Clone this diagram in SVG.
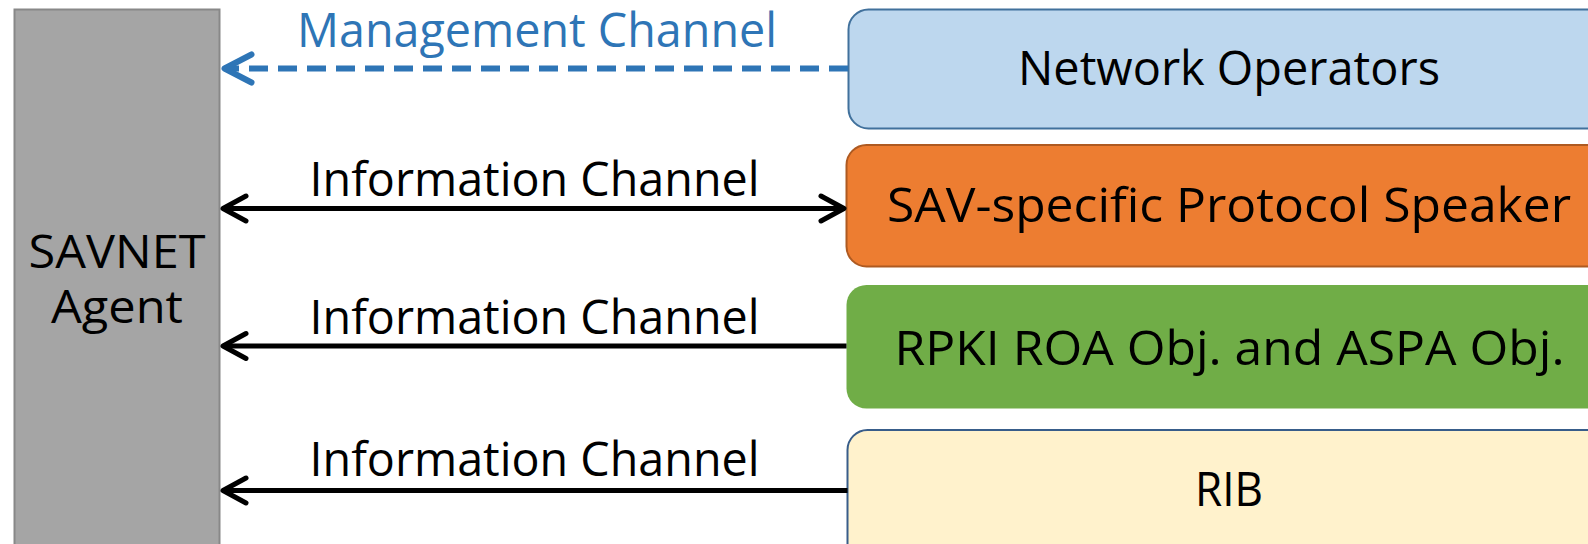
<svg xmlns="http://www.w3.org/2000/svg" width="1588" height="544" viewBox="0 0 1588 544">
  <style>
    text { font-family: "Open Sans", "Noto Sans", "DejaVu Sans", sans-serif; font-size: 48px; fill: #000000; }
    .agent { font-size: 46px; }
    .mgmt { fill: #2e75b6; font-size: 47px; }
    .box { stroke-width: 2; }
    .conn { fill: none; stroke: #000000; stroke-width: 5; }
    .conn-mgmt { fill: none; stroke: #2e75b6; stroke-width: 6; stroke-dasharray: 19 10; }
  </style>
  <defs>
    <marker id="head-black" markerUnits="userSpaceOnUse" viewBox="-30 -18 36 36" refX="0" refY="0" markerWidth="36" markerHeight="36" orient="auto-start-reverse">
      <path d="M-23,-12.5 L0,0 L-23,12.5" fill="none" stroke="#000000" stroke-width="5" stroke-linecap="round" stroke-linejoin="round"/>
    </marker>
    <marker id="head-blue" markerUnits="userSpaceOnUse" viewBox="-34 -20 40 40" refX="0" refY="0" markerWidth="40" markerHeight="40" orient="auto">
      <path d="M-27,-14 L0,0 L-27,14" fill="none" stroke="#2e75b6" stroke-width="6" stroke-linecap="round" stroke-linejoin="round"/>
    </marker>
  </defs>

  <!-- SAVNET agent column -->
  <g id="savnet-agent">
    <rect x="14.5" y="9.5" width="205" height="560" fill="#a5a5a5" stroke="#888888" stroke-width="2"/>
    <text class="agent" x="117" y="268" text-anchor="middle" textLength="177" lengthAdjust="spacingAndGlyphs">SAVNET</text>
    <text class="agent" x="117" y="323" text-anchor="middle" textLength="132" lengthAdjust="spacingAndGlyphs">Agent</text>
  </g>

  <!-- Information sources -->
  <g id="network-operators">
    <rect class="box" x="848.5" y="9.5" width="780" height="119" rx="20" fill="#bdd7ee" stroke="#41719c"/>
    <text x="1018" y="85" textLength="422" lengthAdjust="spacingAndGlyphs">Network Operators</text>
  </g>
  <g id="sav-speaker">
    <rect class="box" x="846.5" y="145" width="780" height="121.5" rx="20" fill="#ed7d31" stroke="#ae5a21"/>
    <text x="887" y="221.5" textLength="684" lengthAdjust="spacingAndGlyphs">SAV-specific Protocol Speaker</text>
  </g>
  <g id="rpki-objects">
    <rect x="846.5" y="285" width="780" height="123.5" rx="20" fill="#70ad47"/>
    <text x="894.5" y="365" textLength="670" lengthAdjust="spacingAndGlyphs">RPKI ROA Obj. and ASPA Obj.</text>
  </g>
  <g id="rib">
    <rect class="box" x="847.5" y="430" width="780" height="140" rx="20" fill="#fff2cc" stroke="#385d8a" stroke-width="2.5"/>
    <text x="1195" y="505.5" textLength="68" lengthAdjust="spacingAndGlyphs">RIB</text>
  </g>

  <!-- Channels between the sources and the agent -->
  <g id="connectors">
    <line class="conn-mgmt" x1="848" y1="68.5" x2="224.5" y2="68.5" marker-end="url(#head-blue)"/>
    <text class="mgmt" x="297" y="46.5" textLength="480" lengthAdjust="spacingAndGlyphs">Management Channel</text>

    <line class="conn" x1="223" y1="208.5" x2="844" y2="208.5" marker-start="url(#head-black)" marker-end="url(#head-black)"/>
    <text x="309.5" y="195.5" textLength="450" lengthAdjust="spacingAndGlyphs">Information Channel</text>

    <line class="conn" x1="846.5" y1="346" x2="223" y2="346" marker-end="url(#head-black)"/>
    <text x="309.5" y="333.5" textLength="450" lengthAdjust="spacingAndGlyphs">Information Channel</text>

    <line class="conn" x1="847.5" y1="490.5" x2="223" y2="490.5" marker-end="url(#head-black)"/>
    <text x="309.5" y="475.5" textLength="450" lengthAdjust="spacingAndGlyphs">Information Channel</text>
  </g>
</svg>
